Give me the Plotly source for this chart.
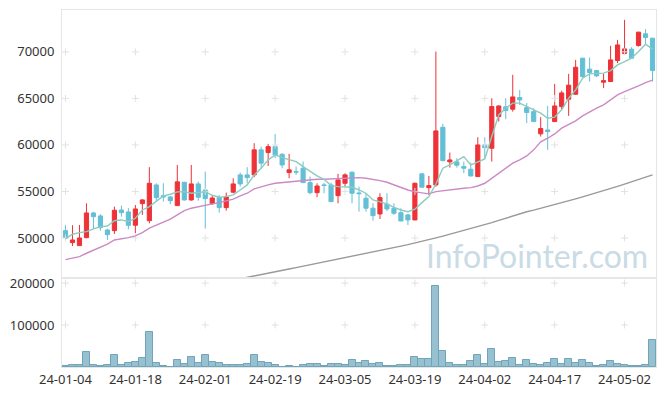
import plotly.graph_objects as go
from plotly.subplots import make_subplots

dates = [
    "2024-01-04","2024-01-05","2024-01-08","2024-01-09","2024-01-10","2024-01-11","2024-01-12",
    "2024-01-15","2024-01-16","2024-01-17","2024-01-18","2024-01-19","2024-01-22","2024-01-23",
    "2024-01-24","2024-01-25","2024-01-26","2024-01-29","2024-01-30","2024-01-31",
    "2024-02-01","2024-02-02","2024-02-05","2024-02-06","2024-02-07","2024-02-08","2024-02-13",
    "2024-02-14","2024-02-15","2024-02-16","2024-02-19","2024-02-20","2024-02-21","2024-02-22",
    "2024-02-23","2024-02-26","2024-02-27","2024-02-28","2024-02-29",
    "2024-03-04","2024-03-05","2024-03-06","2024-03-07","2024-03-08","2024-03-11","2024-03-12",
    "2024-03-13","2024-03-14","2024-03-15","2024-03-18","2024-03-19","2024-03-20","2024-03-21",
    "2024-03-22","2024-03-25","2024-03-26","2024-03-27","2024-03-28","2024-03-29",
    "2024-04-01","2024-04-02","2024-04-03","2024-04-04","2024-04-05","2024-04-08","2024-04-09",
    "2024-04-11","2024-04-12","2024-04-15","2024-04-16","2024-04-17","2024-04-18","2024-04-19",
    "2024-04-22","2024-04-23","2024-04-24","2024-04-25","2024-04-26","2024-04-29","2024-04-30",
    "2024-05-02","2024-05-03","2024-05-07","2024-05-08","2024-05-09",
]

opens = [50790,49500,49180,50040,52690,52370,50860,50790,53010,52800,51370,53690,51860,55700,
         54550,54410,53480,55990,54090,55810,55160,53690,54340,53260,54920,56780,56780,56780,
         59470,59180,59820,59000,57030,57130,57500,55950,54870,55700,55700,54550,55880,57070,
         54840,54270,53200,52580,53630,53200,52720,52480,51940,56890,55410,55700,61900,58180,
         58180,57670,57390,56600,60000,59640,63050,64090,63840,65090,64010,63580,61190,61610,
         62510,64120,64910,65450,69320,68140,67990,66740,66810,69070,69820,70290,70680,71940,71470]
highs = [51370,51370,51400,53730,52800,52550,51000,53370,53470,53200,53550,54170,57610,55880,
         55880,54500,57850,56030,57850,56060,57130,54590,54630,54880,56420,57030,57610,60190,
         59820,60110,61180,59110,59040,57670,58210,56600,55880,55950,55950,56890,56960,57150,
         55520,54810,53730,54810,54810,53730,53200,52590,55950,56960,56670,70030,62260,59180,
         58570,58210,58100,60830,60830,65020,64250,65020,67530,65910,64490,63950,62980,64190,
         66560,65840,67640,69140,69360,69390,68070,67640,70650,71290,73440,70500,72150,72440,71500]
lows = [49790,49140,49150,49950,50970,50790,49790,50430,52290,50940,50510,52480,51580,53910,
        53910,53630,53480,54000,54000,54010,51010,53550,52720,52940,54810,55520,55880,56530,
        57500,57740,58570,57500,56420,56780,55900,54700,54380,54810,53850,53730,55520,53730,
        52830,52830,51860,52040,52900,52480,51800,51400,51900,55400,54630,55520,58250,57560,
        57560,56960,56600,56550,58570,58210,62510,62770,63580,64300,62340,62450,60900,59470,
        62450,63840,63120,65400,67200,66810,67310,66100,66750,68790,69800,69250,70570,70830,66810]
closes = [50040,49790,50000,52690,52290,51110,50360,52980,52720,51370,53120,54090,55880,54340,
          54410,54010,56030,54090,55810,54380,54230,54300,53260,54410,55810,55810,56490,59470,
          58040,59820,58930,57850,57320,57080,55950,54870,55590,55650,53910,56240,56780,54810,
          54770,53200,52400,54340,53120,52660,51830,51940,55880,55460,55630,61510,58310,58390,
          57820,57500,56670,60000,59710,64120,64190,63690,65160,64840,63480,62510,61760,61430,
          64190,65590,66420,68350,67350,67780,67420,66910,69140,70750,70320,69320,72120,71540,67990]

ma5 = [49900,50400,50570,50680,50970,51220,51290,51860,51940,51760,52120,53010,53370,53910,
       54520,54700,54950,54980,54810,54880,54980,54590,54380,54450,54630,55160,55700,56780,
       57500,58390,58930,58640,58390,58210,57670,57130,56670,56310,55630,55520,55520,55450,
       55160,54810,54090,53910,53660,53300,53010,52830,53090,53800,54450,55800,57500,57850,
       58310,58750,57850,58210,58500,60900,63230,63950,64490,64490,64120,63690,63410,62870,
       62980,63770,65020,65910,67170,67640,67710,67710,67990,68600,68960,69320,70030,70830,70290]
ma20 = [47670,47830,48000,48360,48710,49000,49330,49790,49900,50040,50220,50580,51050,51400,
        51690,52020,52480,52940,53200,53370,53550,53660,53800,53980,54170,54520,54810,55270,
        55520,55700,55880,55950,56100,56130,56200,56240,56310,56310,56350,56380,56490,56530,
        56490,56420,56310,56170,55990,55700,55410,55160,54950,54810,54740,54980,55090,55160,
        55270,55340,55410,55590,55880,56420,56960,57500,58040,58390,58820,59470,60330,60720,
        61180,61800,62150,62580,63120,63580,63950,64300,64840,65380,65730,66020,66340,66700,66960]
ma60 = [None] * 25 + [
    45620,45780,45930,46080,46230,46380,46530,46670,46810,46960,47110,47260,47410,47560,47700,
    47850,48010,48170,48330,48490,48650,48810,48970,49130,49290,49450,49630,49820,50010,50200,
    50400,50590,50790,50990,51200,51420,51650,51890,52130,52380,52640,52820,53000,53190,53380,
    53580,53790,54000,54210,54420,54630,54850,55080,55310,55540,55780,56010,56250,56510,56780]

volumes = [3200,5600,5600,36800,5600,3200,5600,29600,5600,10400,12800,22400,82400,10400,
           3200,800,17600,8000,24800,10400,29600,12800,10400,5600,5600,5600,8000,29600,
           12800,10400,5600,800,3200,800,5600,8000,8000,3200,8000,8000,5600,17600,
           10400,15200,8000,10400,3200,3200,5600,5600,24800,20000,20000,192800,39200,10400,
           5600,5600,15200,29600,8000,44000,12800,15200,22400,5600,17600,8000,5600,10400,
           20000,8000,20000,10400,17600,10400,3200,5600,15200,8000,5600,3200,3200,5600,63200]

price_ticks = [50000, 55000, 60000, 65000, 70000]
price_labels = ["50000", "55000", "60000", "65000", "70000"]
volume_ticks = [100000, 200000]
volume_labels = ["100000", "200000"]
tick_idx = list(range(0, 85, 10))
tick_dates = [dates[i] for i in tick_idx]
tick_text = [d[2:] for d in tick_dates]

RED = "#ee3237"
BLUE = "#63bfd6"
FONT = "Noto Sans"

fig = make_subplots(rows=2, cols=1, shared_xaxes=True, vertical_spacing=0,
                    row_heights=[0.7507, 0.2493])

fig.add_trace(go.Candlestick(
    x=dates, open=opens, high=highs, low=lows, close=closes,
    increasing=dict(line=dict(color=RED, width=1), fillcolor=RED),
    decreasing=dict(line=dict(color=BLUE, width=1), fillcolor=BLUE),
    whiskerwidth=0, hoverinfo="skip", showlegend=False), row=1, col=1)

fig.add_trace(go.Bar(x=dates, y=volumes, marker=dict(color="#97c0d0",
                     line=dict(color="#6fa4ba", width=1)),
                     hoverinfo="skip", showlegend=False), row=2, col=1)

# grid crosses at tick intersections
cx, cy = [], []
for d in tick_dates:
    for v in price_ticks:
        cx.append(d); cy.append(v)
fig.add_trace(go.Scatter(x=cx, y=cy, mode="markers",
                         marker=dict(symbol="cross-thin", size=5,
                                     line=dict(color="#e2e2e2", width=1)),
                         hoverinfo="skip", showlegend=False), row=1, col=1)
vx, vy = [], []
for d in tick_dates:
    for v in volume_ticks:
        vx.append(d); vy.append(v)
fig.add_trace(go.Scatter(x=vx, y=vy, mode="markers",
                         marker=dict(symbol="cross-thin", size=5,
                                     line=dict(color="#e2e2e2", width=1)),
                         hoverinfo="skip", showlegend=False), row=2, col=1)

fig.add_trace(go.Scatter(x=dates, y=ma60, mode="lines",
                         line=dict(color="#999999", width=1.4), hoverinfo="skip",
                         showlegend=False), row=1, col=1)
fig.add_trace(go.Scatter(x=dates, y=ma20, mode="lines",
                         line=dict(color="#cc8ac4", width=1.4), hoverinfo="skip",
                         showlegend=False), row=1, col=1)
fig.add_trace(go.Scatter(x=dates, y=ma5, mode="lines",
                         line=dict(color="#8ccbc0", width=1.4), hoverinfo="skip",
                         showlegend=False), row=1, col=1)

axis_common = dict(showgrid=False, zeroline=False, showline=True, mirror=True,
                   linecolor="#e6e6e6", linewidth=1, automargin=False)

fig.update_xaxes(type="category", categoryorder="array", categoryarray=dates,
                 range=[-0.5, 84.5], rangeslider_visible=False,
                 tickmode="array", tickvals=tick_dates, ticktext=tick_text,
                 ticks="", **axis_common)
fig.update_xaxes(showticklabels=False, row=1, col=1)
fig.update_xaxes(showticklabels=True, tickfont=dict(family=FONT, size=13, color="#333333"),
                 ticklabelstandoff=0, row=2, col=1)

fig.update_yaxes(range=[45700, 74500], tickmode="array", tickvals=price_ticks,
                 ticktext=price_labels,
                 ticks="", tickfont=dict(family=FONT, size=13, color="#333333"),
                 ticklabelstandoff=4, row=1, col=1, **axis_common)
fig.update_yaxes(range=[0, 212000], tickmode="array", tickvals=volume_ticks,
                 ticktext=volume_labels,
                 ticks="", tickfont=dict(family=FONT, size=13, color="#333333"),
                 ticklabelstandoff=4, row=2, col=1, **axis_common)

fig.add_annotation(text="InfoPointer.com", xref="paper", yref="paper",
                   x=0.80, y=0.311, xanchor="center", yanchor="middle",
                   showarrow=False, font=dict(family="Lato", size=32, color="#c9dbe5"))

fig.update_layout(width=665, height=396, margin=dict(l=62, r=9, t=10, b=29),
                  paper_bgcolor="white", plot_bgcolor="white",
                  boxgap=0.15, bargap=0.0, showlegend=False, hovermode=False)

fig.write_html("out.html", config={"displayModeBar": False},
               post_script="document.body.style.margin='0';document.body.style.padding='0';")
